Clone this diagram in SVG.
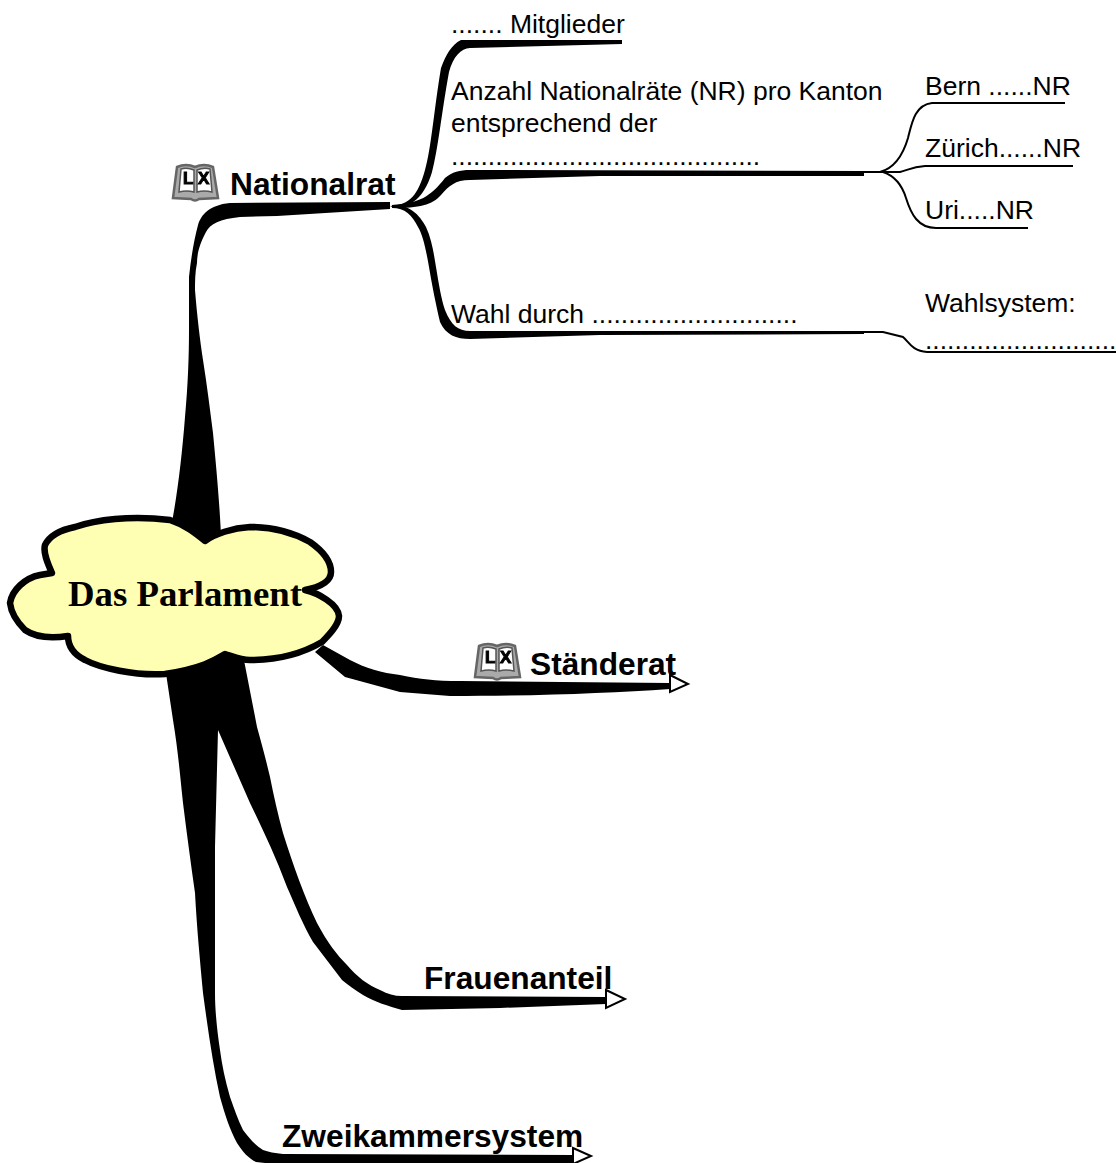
<svg xmlns="http://www.w3.org/2000/svg" width="1116" height="1163" viewBox="0 0 1116 1163">
<style>
.t{font-family:"Liberation Sans",Arial,sans-serif;font-size:26.5px;fill:#000}
.b{font-family:"Liberation Sans",Arial,sans-serif;font-size:31.7px;font-weight:bold;fill:#000}
.c{font-family:"Liberation Serif","Times New Roman",serif;font-size:36.8px;font-weight:bold;fill:#000}
.f{fill:#000;stroke:none}
.w{fill:none;stroke:#000;stroke-width:2}
.a{fill:#fff;stroke:#000;stroke-width:2}
.il{font-family:"Liberation Sans",Arial,sans-serif;font-size:17px;font-weight:bold;fill:#000;stroke:#000;stroke-width:1}
</style>
<defs>
<filter id="soft" x="-10%" y="-10%" width="120%" height="120%"><feGaussianBlur stdDeviation="0.5"/></filter>
<g id="book" filter="url(#soft)">
<path d="M1 36 L5 5 Q14 1 23 5 Q32 1 41 5 L46 36 L27 37 Q23 40 19 37 Z" fill="#aaa" stroke="#666" stroke-width="2.5"/>
<path d="M7 30 L9 7 Q15 5 22 8 L22 30 Q15 28 7 30 Z M25 8 Q32 5 38 7 L40 30 Q32 28 25 30 Z" fill="#fff" stroke="#555" stroke-width="1.5"/>
<text class="il" x="11" y="22">L</text><text class="il" x="26" y="22">X</text>
</g>
</defs>
<g id="connectors">
<path class="f" d="M172 522 C178 490 182 455 185 417 C188 385 189 355 189 330 L189 277 C191 258 194 240 198 225 C201 215 209 205 230 203 L390 202 L390 209 L277 216 L240 217 C220 219 210 224 206 232 C199 245 197 255 197 263 C195 272 195 282 195 290 C197 315 200 340 203 360 C207 385 210 410 213 433 C216 465 219 495 221 535 L205 560 L170 530 Z"/>
<path class="f" d="M390 206 C410 205 418 195 425 170 C431 150 434 110 441 68 C446 55 451 45 461 40 L622 40 L622 44 L470 48 C461 48 453 57 449 72 C442 110 438 150 432 172 C426 192 415 207 395 208 Z"/>
<path class="f" d="M392 205 C420 203 430 197 445 178 C452 172 460 170 470 170 L864 171 L864 176 L600 176 L470 180 C455 180 449 186 441 195 C432 205 420 208 392 208 Z"/>
<path class="f" d="M392 205 C410 205 419 214 426 227 C432 240 434 255 436 267 C439 285 441 298 445 310 C451 325 458 331 470 331 L864 331 L864 334 L600 335 L470 339 C456 339 446 335 440 322 C436 305 432 285 429 267 C426 250 423 235 418 227 C412 215 405 208 392 208 Z"/>
<path class="w" d="M864 172 H880 C895 168 903 155 908 138 C912 122 915 105 932 103 H1065"/>
<path class="w" d="M864 172 H900 C908 170 912 167 925 166 H1073"/>
<path class="w" d="M864 172 H883 C895 176 902 185 906 198 C911 214 918 228 936 228 H1028"/>
<path class="w" d="M864 332 H883 L903 337 C909 342 912 351 927 352 H1116"/>
<path class="f" d="M323 645 L350 660 C365 668 382 673 400 675 C420 679 435 681 460 681 L670 683 L670 689 C610 693 540 696 450 696 L400 692 L345 677 L315 652 Z"/>
<path class="a" d="M670 675 L688 684 L670 692 Z"/>
<path class="f" d="M242 650 L257 727 C262 745 266 760 270 777 C274 797 278 815 283 833 C293 865 305 898 317 923 C327 942 337 955 347 965 C357 977 368 985 380 990 C388 994 394 996 402 996 L606 997 L606 1004 L500 1008 L402 1010 C388 1006 375 1002 363 995 C355 990 348 985 342 980 L313 942 C303 925 295 905 287 887 C275 855 263 830 250 803 L218 730 L190 650 Z"/>
<path class="f" d="M164 660 L173 720 C178 750 180 775 183 803 C187 835 191 865 195 893 C197 930 200 960 203 993 C208 1030 213 1065 220 1097 C225 1115 230 1130 237 1143 C243 1152 248 1158 256 1162 L265 1163 L573 1163 L573 1155 L283 1154 C275 1153 268 1152 263 1150 C255 1145 249 1138 243 1130 C238 1120 234 1108 230 1097 C225 1080 222 1065 220 1050 C217 1030 215 1010 215 993 L215 847 L218 730 L235 660 Z"/>
<path class="a" d="M606 990 L625 999 L606 1008 Z"/>
<path class="a" d="M573 1148 L591 1156 L573 1164 Z"/>
</g>
<g id="node-center">
<path d="M205 541 C215 534 232 528 250 527 C272 527 292 532 310 542 C320 549 331 560 331 572 C331 582 320 587 305 590 C318 593 338 604 339 616 C339 625 328 636 322 642 C305 652 280 660 250 660 C240 660 232 656 225 654 C215 660 203 668 165 674 C135 676 100 668 85 660 C73 654 68 645 68 636 C55 638 38 639 25 630 C17 622 11 612 10 603 C12 590 25 578 40 575 L52 573 C47 562 43 552 45 545 C50 535 60 530 75 527 C95 520 130 515 170 520 C185 525 195 533 205 541 Z" fill="#ffffb3" stroke="#000" stroke-width="6.5" stroke-linejoin="round"/>
<text class="c" x="68" y="606">Das Parlament</text>
</g>
<g id="node-nationalrat"><use href="#book" x="172" y="162"/><text class="b" x="230" y="195">Nationalrat</text></g>
<g id="node-mitglieder"><text class="t" x="451" y="33">....... Mitglieder</text></g>
<g id="node-anzahl"><text class="t" x="451" y="100">Anzahl Nationalräte (NR) pro Kanton</text><text class="t" x="451" y="132">entsprechend der</text><text class="t" x="451" y="165">..........................................</text></g>
<g id="node-wahl"><text class="t" x="451" y="323">Wahl durch ............................</text></g>
<g id="node-bern"><text class="t" x="925" y="95">Bern ......NR</text></g>
<g id="node-zuerich"><text class="t" x="925" y="157">Zürich......NR</text></g>
<g id="node-uri"><text class="t" x="925" y="219">Uri.....NR</text></g>
<g id="node-wahlsystem"><text class="t" x="925" y="312">Wahlsystem:</text><text class="t" x="925" y="349">..........................</text></g>
<g id="node-staenderat"><use href="#book" x="474" y="641"/><text class="b" x="530" y="675">Ständerat</text></g>
<g id="node-frauenanteil"><text class="b" x="424" y="989">Frauenanteil</text></g>
<g id="node-zweikammersystem"><text class="b" x="282" y="1147">Zweikammersystem</text></g>
</svg>
